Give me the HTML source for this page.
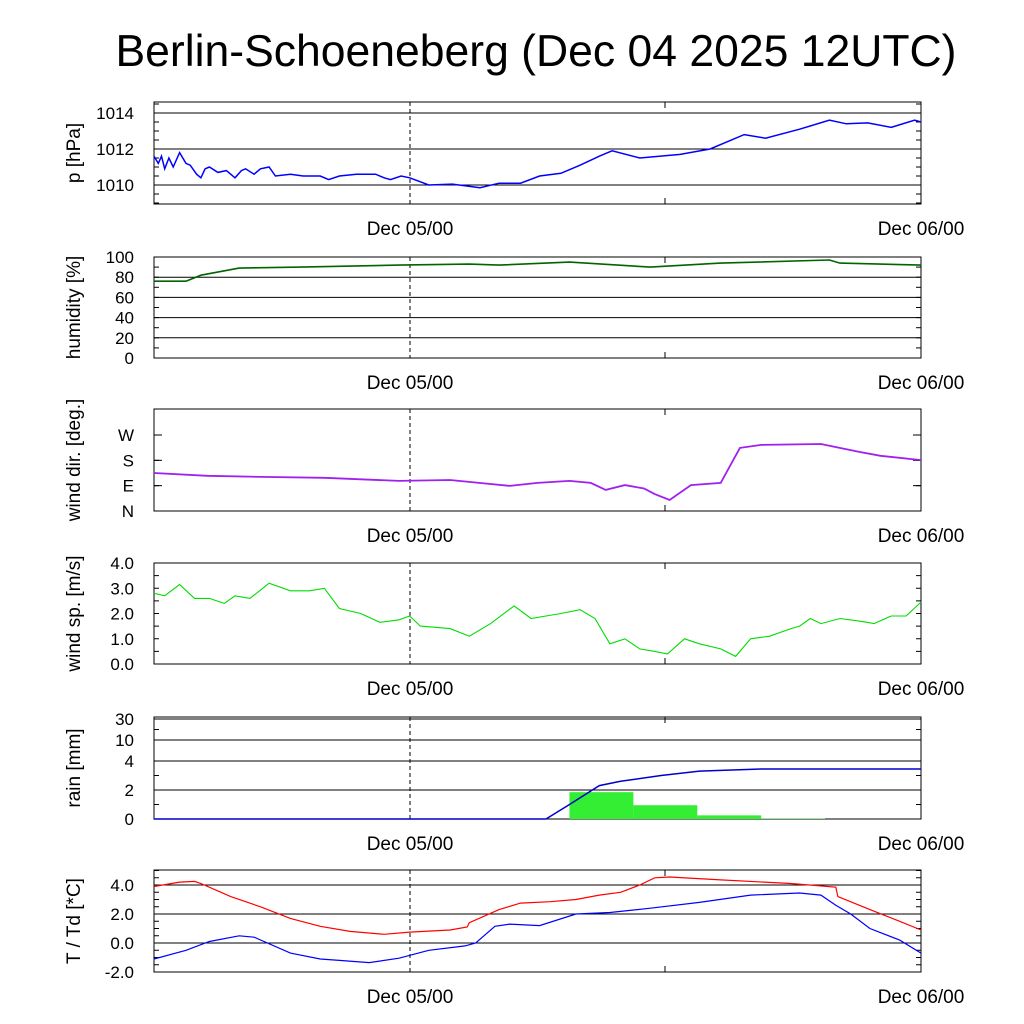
<!DOCTYPE html>
<html><head><meta charset="utf-8"><style>
body{margin:0;background:#fff}
svg{display:block}
text{font-family:"Liberation Sans",sans-serif;fill:#000}
</style></head><body>
<svg id="c" width="1024" height="1024" viewBox="0 0 1024 1024">
<text x="536" y="66" font-size="44.5" text-anchor="middle">Berlin-Schoeneberg (Dec 04 2025 12UTC)</text>
</svg>
<script>
// hours since Dec 04 12UTC
const presT=[0,0.2,0.35,0.5,0.7,0.9,1.2,1.5,1.7,2.0,2.2,2.4,2.6,3.0,3.4,3.8,4.1,4.3,4.7,5.0,5.4,5.7,6.4,7.0,7.8,8.2,8.7,9.5,10.4,10.8,11.1,11.6,12,12.9,14.0,15.3,16.2,17.2,18.1,19.1,20.0,20.9,21.5,22.8,24.7,26.1,27.7,28.7,30.3,31.7,32.5,33.5,34.6,35.7,36];
const presV=[1011.6,1011.2,1011.6,1010.9,1011.5,1011.0,1011.8,1011.2,1011.1,1010.6,1010.4,1010.9,1011.0,1010.7,1010.8,1010.4,1010.8,1010.9,1010.6,1010.9,1011.0,1010.5,1010.6,1010.5,1010.5,1010.3,1010.5,1010.6,1010.6,1010.4,1010.3,1010.5,1010.4,1010.0,1010.05,1009.85,1010.1,1010.1,1010.5,1010.65,1011.1,1011.6,1011.9,1011.5,1011.7,1012.0,1012.8,1012.6,1013.1,1013.6,1013.4,1013.45,1013.2,1013.6,1013.5];
const humT=[0,1.5,2.2,4.0,6.9,11.5,14.8,16.2,19.5,23.3,26.6,31.7,32.2,36];
const humV=[76,76,82,89,90,92,93,92,95,90,94,97,94,92];
const dirT=[0,2.5,5.0,8,11.5,13.9,15.5,16.7,18,19.5,20.5,21.2,22.1,23.0,23.5,24.2,25.2,26.6,27.5,28.5,31.3,33.1,34.1,36];
const dirV=[135,125,121,118,107,110,98,89,100,107,100,75,92,80,60,39,92,100,224,235,238,210,196,181];
const spdT=[0,.5,1.2,1.9,2.6,3.3,3.8,4.5,5.4,6.4,7.3,8.0,8.7,9.7,10.6,11.5,12,12.5,13.9,14.8,15.8,16.9,17.7,18.4,19.1,20,20.7,21.4,22.1,22.8,23.5,24.1,24.9,25.6,26.6,27.3,28.0,28.9,29.9,30.3,30.8,31.3,32.2,33.1,33.8,34.6,35.3,36];
const spdV=[2.8,2.7,3.15,2.6,2.6,2.4,2.7,2.6,3.2,2.9,2.9,3.0,2.2,2.0,1.65,1.75,1.9,1.5,1.4,1.1,1.6,2.3,1.8,1.9,2.0,2.15,1.8,0.8,1.0,0.6,0.5,0.4,1.0,0.8,0.6,0.3,1.0,1.1,1.4,1.5,1.8,1.6,1.8,1.7,1.6,1.9,1.9,2.45];
const rainCumT=[0,18.4,19.5,20.9,21.9,23.8,25.6,28.5,36];
const rainCumV=[0,0,1.0,2.3,2.6,3.0,3.3,3.45,3.45];
const rainBarStart=[19.5,22.5,25.5,28.5];
const rainBarV=[1.85,0.95,0.25,0.03];
const tT=[0,1.2,1.9,2.2,3.6,5.0,6.4,7.8,9.2,10.8,12,13.9,14.7,14.8,16.2,17.2,18.6,19.8,20.9,21.9,22.8,23.5,24.2,26.6,29.9,32,32.1,33.6,35,36];
const tV=[3.9,4.2,4.25,4.1,3.2,2.5,1.7,1.15,0.8,0.6,0.75,0.9,1.1,1.4,2.3,2.75,2.85,3.0,3.3,3.5,4.0,4.5,4.55,4.35,4.1,3.85,3.2,2.3,1.5,0.9];
const tdT=[0,1.5,2.6,4.0,4.7,6.4,7.8,8.7,10.1,11.5,12.9,14.6,15.1,16.0,16.7,18.1,19.8,21.4,23.3,25.6,28.0,30.3,31.3,32.0,32.7,33.6,35,36];
const tdV=[-1.1,-0.5,0.1,0.5,0.4,-0.7,-1.1,-1.2,-1.35,-1.05,-0.5,-0.2,0.0,1.15,1.3,1.2,2.0,2.1,2.4,2.8,3.3,3.45,3.3,2.6,2.0,1.0,0.2,-0.7];

const NS='http://www.w3.org/2000/svg';
const svg=document.getElementById('c');
const X0=154,X1=921;
const xs=h=>X0+(X1-X0)*h/36;
function el(tag,attrs,parent){const e=document.createElementNS(NS,tag);for(const k in attrs)e.setAttribute(k,attrs[k]);(parent||svg).appendChild(e);return e;}
function lin(v0,v1,top,bot){return v=>bot-(v-v0)/(v1-v0)*(bot-top);}
function pw(vals,pix){return v=>{for(let i=0;i<vals.length-1;i++){if(v<=vals[i+1]||i==vals.length-2){return pix[i]+(v-vals[i])/(vals[i+1]-vals[i])*(pix[i+1]-pix[i]);}}};}
const TF=17;
function panel(name,top,bot,ys,ticks,labels,minor,ylabel){
  const g=el('g',{},svg);
  
  
  ticks.forEach((t,i)=>{
    const y=ys(t);
    const gl=el('line',{x1:X0,x2:X1,y1:y,y2:y,stroke:'#000','stroke-width':1},g);
    
    
    const tx=el('text',{x:X0-20,y:y+6,'font-size':TF,'text-anchor':'end'},g);
    tx.textContent=labels[i];
    
    
  });
  minor.forEach(t=>{const y=ys(t);
    el('line',{x1:X0,x2:X0+5,y1:y,y2:y,stroke:'#000'},g);
    el('line',{x1:X1-5,x2:X1,y1:y,y2:y,stroke:'#000'},g);});
  el('line',{x1:410,x2:410,y1:top,y2:bot,stroke:'#000','stroke-dasharray':'4,3'},g);
  el('line',{x1:665,x2:665,y1:bot-6,y2:bot,stroke:'#000'},g);
  el('line',{x1:665,x2:665,y1:top,y2:top+6,stroke:'#000'},g);
  const fr=el('rect',{x:X0,y:top,width:X1-X0,height:bot-top,fill:'none',stroke:'#000','stroke-width':1},g);
  
  
  const cy=(top+bot)/2;
  const yl=el('text',{x:0,y:0,'font-size':19,'text-anchor':'middle',transform:`translate(${X0-74},${cy}) rotate(-90)`},g);
  yl.textContent=ylabel;
  
  
  [['Dec 05/00',410],['Dec 06/00',921]].forEach(([s,x])=>{
    const t=el('text',{x:x,y:bot+31,'font-size':19,'text-anchor':'middle'},g);
    t.textContent=s;
    
    
  });
  return g;
}
function line(g,name,T,V,ys,color,w){
  const d=T.map((t,i)=>(i?'L':'M')+xs(t).toFixed(1)+','+ys(V[i]).toFixed(1)).join('');
  const p=el('path',{d:d,fill:'none',stroke:color,'stroke-width':w||1.3},g);
  
  
}
function range(a,b,s){const r=[];for(let v=a;v<=b+1e-9;v+=s)r.push(v);return r;}
function lbl(g,name,v,s,ys){const t=el('text',{x:X0-20,y:ys(v)+6,'font-size':TF,'text-anchor':'end'},g);t.textContent=s;
  
  }

// pressure
let ys=lin(1010,1014,113,185);
let g=panel('pressure',102,204,ys,[1010,1012,1014],['1010','1012','1014'],range(1009,1014.5,0.5),'p [hPa]');
line(g,'pressure-line',presT,presV,ys,'#0000ff',1.5);
// humidity
ys=lin(0,100,257,358);
g=panel('humidity',257,358,ys,[0,20,40,60,80,100],['0','20','40','60','80','100'],range(0,100,10),'humidity [%]');
line(g,'humidity-line',humT,humV,ys,'#006400',1.6);
// wind dir
ys=lin(0,270,435,511);
g=panel('wind-dir',409,511,ys,[],[],[0,90,180,270],'wind dir. [deg.]');
['N','E','S','W'].forEach((s,i)=>{lbl(g,'wind-dir',i*90,s,ys);
  el('line',{x1:X0,x2:X0+8,y1:ys(i*90),y2:ys(i*90),stroke:'#000'},g);el('line',{x1:X1-8,x2:X1,y1:ys(i*90),y2:ys(i*90),stroke:'#000'},g);});
line(g,'wind-dir-line',dirT,dirV,ys,'#a020f0',1.8);
// wind speed
ys=lin(0,4,563,664);
g=panel('wind-speed',563,664,ys,[],[],range(0,4,0.5),'wind sp. [m/s]');
[0,1,2,3,4].forEach(v=>lbl(g,'wind-speed',v,v.toFixed(1),ys));
line(g,'wind-speed-line',spdT,spdV,ys,'#00dd00',1.1);
// rain
ys=pw([0,2,4,10,30],[819,790,761,740,719]);
g=panel('rain',717,819,ys,[0,2,4,10,30],['0','2','4','10','30'],[1,3,20],'rain [mm]');
rainBarStart.forEach((s,i)=>{const x=xs(s),w=xs(s+3)-x,y=ys(rainBarV[i]);
  const r=el('rect',{x:x,y:y,width:w,height:819-y,fill:'#33ee33'},g);
  
  });
line(g,'rain-cumulative-line',rainCumT,rainCumV,ys,'#0000cc',1.5);
// temperature
ys=lin(-2,4,885,972);
g=panel('temperature',870,972,ys,[0,2,4],['0.0','2.0','4.0'],range(-2,5,0.5),'T / Td [*C]');
lbl(g,'temperature',-2,'-2.0',ys);
line(g,'temperature-line',tT,tV,ys,'#ff0000',1.2);
line(g,'dewpoint-line',tdT,tdV,ys,'#0000ff',1.2);
</script>
</body></html>
